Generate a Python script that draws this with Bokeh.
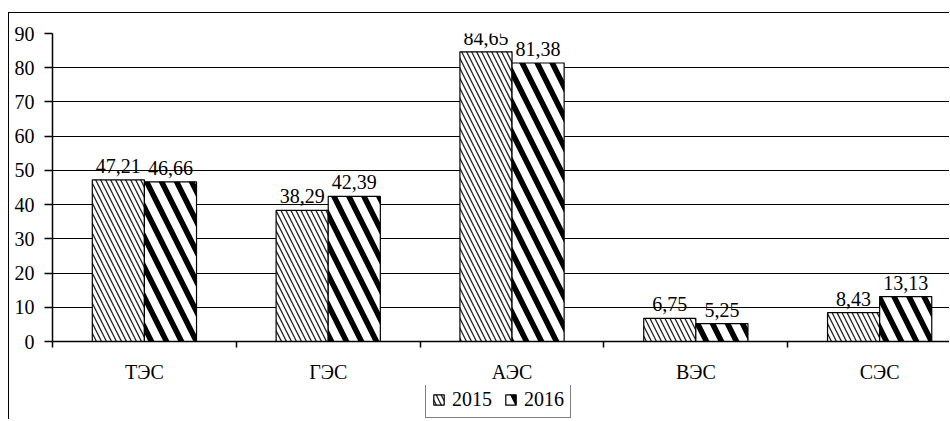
from bokeh.plotting import figure
from bokeh.layouts import column
from bokeh.models import Range1d, FixedTicker, ColumnDataSource, Legend, LegendItem
from bokeh.transform import dodge
from bokeh.core.properties import value
from bokeh.embed import file_html
from bokeh.resources import INLINE

categories = ["ТЭС", "ГЭС", "АЭС", "ВЭС", "СЭС"]
values_2015 = [47.21, 38.29, 84.65, 6.75, 8.43]
values_2016 = [46.66, 42.39, 81.38, 5.25, 13.13]
series_names = ["2015", "2016"]
y_ticks = [0, 10, 20, 30, 40, 50, 60, 70, 80, 90]

FONT = "Liberation Serif"
FS = "20px"
BAR_W = 0.2835

centers = [i + 0.5 for i in range(len(categories))]
bounds = list(range(len(categories) + 1))

def fmt(v):
    return f"{v:.2f}".replace(".", ",")

src = ColumnDataSource(dict(
    x=centers,
    v15=values_2015,
    v16=values_2016,
    l15=[fmt(v) for v in values_2015],
    l16=[fmt(v) for v in values_2016],
))

STYLE15 = dict(fill_color="white", line_color="black", line_width=1.2,
               hatch_pattern="\\", hatch_scale=10, hatch_weight=1.3, hatch_color="#222222")
STYLE16 = dict(fill_color="white", line_color="black", line_width=1.2,
               hatch_pattern="\\", hatch_scale=30, hatch_weight=5.5, hatch_color="black")

p = figure(width=940, height=372, output_backend="svg", toolbar_location=None,
           x_range=Range1d(0, 4.88), y_range=Range1d(0, 90),
           min_border_left=43, min_border_top=20, min_border_bottom=43, min_border_right=0)
p.outline_line_color = None
p.background_fill_color = "white"
p.border_fill_color = "white"

# grid
p.xgrid.grid_line_color = None
p.ygrid.ticker = FixedTicker(ticks=y_ticks)
p.ygrid.grid_line_color = "black"
p.ygrid.grid_line_width = 1.2

# y axis
p.yaxis.ticker = FixedTicker(ticks=y_ticks)
p.yaxis.major_tick_in = 0
p.yaxis.major_tick_out = 8
p.yaxis.minor_tick_line_color = None
p.yaxis.major_label_standoff = 10
p.yaxis.axis_line_width = 1.5
p.yaxis.axis_line_color = "black"
p.yaxis.major_tick_line_color = "black"
p.yaxis.major_tick_line_width = 1.5
p.yaxis.major_label_text_font = FONT
p.yaxis.major_label_text_font_size = FS
p.yaxis.major_label_text_color = "black"

# x axis
p.xaxis.ticker = FixedTicker(ticks=centers, minor_ticks=bounds)
p.xaxis.major_label_overrides = {c: n for c, n in zip(centers, categories)}
p.xaxis.major_tick_line_color = None
p.xaxis.major_tick_out = 0
p.xaxis.major_tick_in = 0
p.xaxis.minor_tick_in = 0
p.xaxis.minor_tick_out = 6
p.xaxis.minor_tick_line_color = "black"
p.xaxis.minor_tick_line_width = 1.5
p.xaxis.axis_line_color = "black"
p.xaxis.axis_line_width = 1.5
p.xaxis.major_label_standoff = 13
p.xaxis.major_label_text_font = FONT
p.xaxis.major_label_text_font_size = FS
p.xaxis.major_label_text_color = "black"

p.vbar(x=dodge("x", -BAR_W / 2), top="v15", width=BAR_W, source=src, **STYLE15)
p.vbar(x=dodge("x", BAR_W / 2), top="v16", width=BAR_W, source=src, **STYLE16)

p.text(x=dodge("x", -BAR_W / 2), y="v15", text="l15", source=src,
       text_align="center", text_baseline="alphabetic", y_offset=-14,
       text_font=value(FONT), text_font_size=FS, text_color="black")
p.text(x=dodge("x", BAR_W / 2), y="v16", text="l16", source=src,
       text_align="center", text_baseline="alphabetic", y_offset=-14,
       text_font=value(FONT), text_font_size=FS, text_color="black")

# legend strip below the chart (its frame is aligned with the chart frame)
lg = figure(width=940, height=34, output_backend="svg", toolbar_location=None,
            x_range=Range1d(0, 1), y_range=Range1d(0, 1),
            x_axis_type=None, y_axis_type=None,
            min_border_left=0, min_border_right=0, min_border_top=0, min_border_bottom=0)
lg.outline_line_color = None
lg.xgrid.grid_line_color = None
lg.ygrid.grid_line_color = None
# legend-only renderers, hidden behind the opaque legend box
proxy = ColumnDataSource(dict(x=[0.5], top=[0.5], bottom=[0.4]))
e15 = lg.vbar(x="x", top="top", bottom="bottom", width=0.02, source=proxy, **STYLE15)
e16 = lg.vbar(x="x", top="top", bottom="bottom", width=0.02, source=proxy, **STYLE16)

legend = Legend(items=[LegendItem(label=series_names[0], renderers=[e15], index=0),
                       LegendItem(label=series_names[1], renderers=[e16], index=0)],
                orientation="horizontal", location=(373, 1))
legend.label_text_font = FONT
legend.label_text_font_size = FS
legend.label_text_color = "black"
legend.glyph_width = 13
legend.glyph_height = 13
legend.label_standoff = 7
legend.spacing = 12
legend.padding = 6
legend.margin = 0
legend.label_height = 20
legend.border_line_color = "black"
legend.border_line_width = 1.2
legend.background_fill_color = "white"
legend.background_fill_alpha = 1
lg.add_layout(legend)

layout = column(p, lg, spacing=0)
layout.styles = {"border-top": "1.5px solid black", "border-left": "1.5px solid black",
                 "margin-top": "12px", "margin-left": "8px"}

open("out.html", "w").write(file_html(layout, INLINE))
